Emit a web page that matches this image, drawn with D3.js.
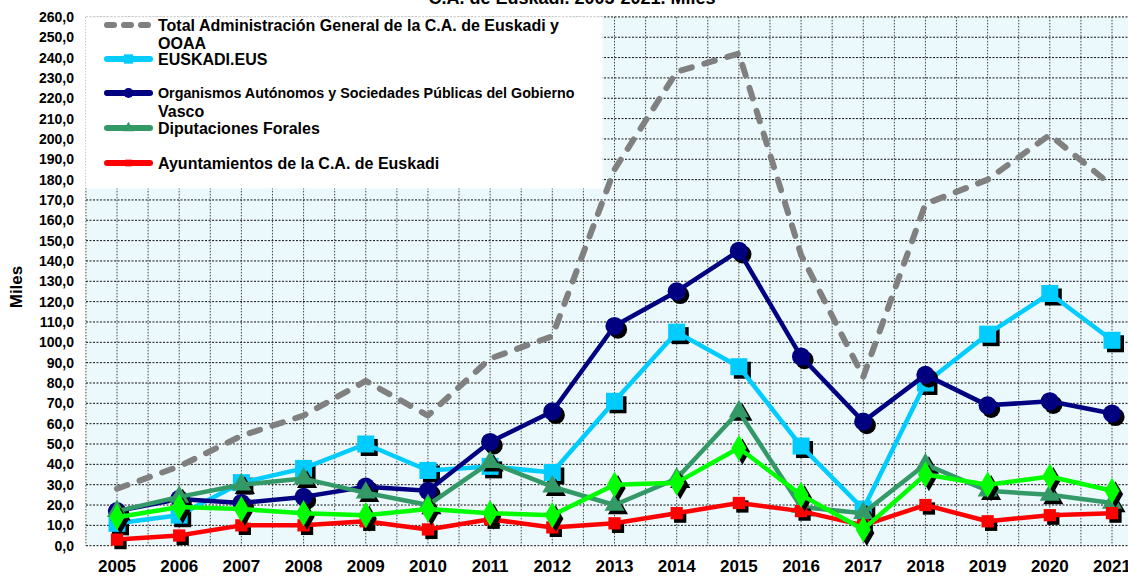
<!DOCTYPE html>
<html>
<head>
<meta charset="utf-8">
<script src="https://cdn.jsdelivr.net/npm/d3@7"></script>
<style>
    body { margin: 0; background: #fff; }
    svg { display: block; font-family: "Liberation Sans", Arial, sans-serif; font-weight: bold; }
</style>
</head>
<body>
<div id="chart"></div>
<script>
// data (miles)
const years = [2005, 2006, 2007, 2008, 2009, 2010, 2011, 2012, 2013, 2014, 2015, 2016, 2017, 2018, 2019, 2020, 2021];
const totalAdmin = [28, 39, 54, 64, 81, 64, 92, 103, 185, 233, 242, 143, 83, 168, 180, 202, 177];
const euskadiEus = [11, 15, 31, 38, 50, 37, 39, 36, 71, 105, 88, 49, 18, 80, 104, 124, 101];
const organismos = [17, 23, 21, 24, 29, 27, 51, 66, 108, 125, 145, 93, 61, 84, 69, 71, 65];
const diputaciones = [17, 24, 30, 33, 26, 20, 41, 29, 20, 33, 66, 19, 16, 40, 27, 25, 21];
const ayuntamientos = [3, 5, 10, 10, 12, 8, 13, 9, 11, 16, 21, 17, 10, 20, 12, 15, 16];
const otros = [14, 19, 18, 16, 15, 18, 16, 15, 30, 31, 48, 25, 8, 35, 30, 34, 27];
const yTicks = d3.range(0, 261, 10);

const titleText = "C.A. de Euskadi. 2005-2021. Miles";
const yLabel = "Miles";

// drawing order = stacking order in the picture
const series = [
    { name: "Total Administración General de la C.A. de Euskadi y|OOAA", values: totalAdmin, color: "#808080", dashed: true },
    { name: "EUSKADI.EUS", values: euskadiEus, color: "#00CCFF", symbol: d3.symbolSquare, size: 289 },
    { name: "Organismos Autónomos y Sociedades Públicas del Gobierno|Vasco", values: organismos, color: "#000080", symbol: d3.symbolCircle, size: 260, small: true },
    { name: "Diputaciones Forales", values: diputaciones, color: "#339966", symbol: d3.symbolTriangle, size: 175 },
    { name: "Ayuntamientos de la C.A. de Euskadi", values: ayuntamientos, color: "#FF0000", symbol: d3.symbolSquare, size: 150 },
    { name: null, values: otros, color: "#00FF00", symbol: d3.symbolDiamond, size: 200 }
];

const width = 1128, height = 576;
const plot = { left: 86, top: 16.9, bottom: 545.7 };

const svg = d3.select("#chart").append("svg")
    .attr("width", width)
    .attr("height", height);

const x = d3.scalePoint()
    .domain(years)
    .range([117, 1112]);

const y = d3.scaleLinear()
    .domain([0, 260])
    .range([plot.bottom, plot.top]);

const step = x.step();
const plotRight = x(years[years.length - 1]) + step / 2;

// plot background
svg.append("rect")
    .attr("x", plot.left)
    .attr("y", plot.top)
    .attr("width", plotRight - plot.left)
    .attr("height", plot.bottom - plot.top)
    .attr("fill", "#EBF8FC");

// grid
const gridV = d3.range(0, years.length * 2 + 1).map(k => x(years[0]) - step / 2 + k * step / 2);
svg.append("g")
    .selectAll("line")
    .data(gridV)
    .join("line")
    .attr("x1", d => d).attr("x2", d => d)
    .attr("y1", plot.top).attr("y2", plot.bottom)
    .attr("stroke", "#444")
    .attr("stroke-width", 1)
    .attr("stroke-dasharray", "1.5,1.5");

svg.append("g")
    .selectAll("line")
    .data(yTicks)
    .join("line")
    .attr("x1", plot.left).attr("x2", plotRight)
    .attr("y1", d => y(d)).attr("y2", d => y(d))
    .attr("stroke", "#111")
    .attr("stroke-width", 1)
    .attr("stroke-dasharray", "2,1.5");

// legend box sits over the grid
svg.append("rect")
    .attr("x", plot.left - 0.5)
    .attr("y", plot.top - 0.5)
    .attr("width", 603 - plot.left)
    .attr("height", 189 - plot.top)
    .attr("fill", "#fff");
svg.append("line")
    .attr("x1", plot.left).attr("x2", 603)
    .attr("y1", plot.top).attr("y2", plot.top)
    .attr("stroke", "#ddd")
    .attr("stroke-dasharray", "2,2");

// axes labels
svg.append("g")
    .selectAll("text")
    .data(yTicks)
    .join("text")
    .attr("x", 74)
    .attr("y", d => y(d))
    .attr("dy", "0.36em")
    .attr("text-anchor", "end")
    .attr("font-size", 14)
    .text(d => d3.format(".1f")(d).replace(".", ","));

svg.append("g")
    .selectAll("text")
    .data(years)
    .join("text")
    .attr("x", d => x(d))
    .attr("y", 572)
    .attr("text-anchor", "middle")
    .attr("font-size", 17)
    .text(d => d);

svg.append("text")
    .attr("transform", "translate(22,287) rotate(-90)")
    .attr("text-anchor", "middle")
    .attr("font-size", 17)
    .text(yLabel);

svg.append("text")
    .attr("x", 572)
    .attr("y", 4)
    .attr("text-anchor", "middle")
    .attr("font-size", 18)
    .text(titleText);

// series
const line = d3.line()
    .x((d, i) => x(years[i]))
    .y(d => y(d));

series.forEach(s => {
    const g = svg.append("g");
    if (s.dashed) {
        g.append("path")
            .attr("d", line(s.values))
            .attr("fill", "none")
            .attr("stroke", s.color)
            .attr("stroke-width", 6)
            .attr("stroke-linecap", "round")
            .attr("stroke-linejoin", "round")
            .attr("stroke-dasharray", "11,13");
        return;
    }
    const sym = d3.symbol().type(s.symbol).size(s.size);
    // marker shadows
    g.selectAll(".shadow")
        .data(s.values)
        .join("path")
        .attr("class", "shadow")
        .attr("d", sym)
        .attr("transform", (d, i) => "translate(" + (x(years[i]) + 3.5) + " " + (y(d) + 3.5) + ")")
        .attr("fill", "#000");
    g.append("path")
        .attr("d", line(s.values))
        .attr("fill", "none")
        .attr("stroke", s.color)
        .attr("stroke-width", 4.5)
        .attr("stroke-linejoin", "round");
    g.selectAll(".marker")
        .data(s.values)
        .join("path")
        .attr("class", "marker")
        .attr("d", sym)
        .attr("transform", (d, i) => "translate(" + x(years[i]) + " " + y(d) + ")")
        .attr("fill", s.color);
});

// legend
const legendRows = [25, 59, 93, 128, 163];
const legend = svg.append("g");
series.filter(s => s.name).forEach((s, i) => {
    const ly = legendRows[i];
    const row = legend.append("g");
    row.append("line")
        .attr("x1", 107).attr("x2", 150)
        .attr("y1", ly).attr("y2", ly)
        .attr("stroke", s.color)
        .attr("stroke-width", 6)
        .attr("stroke-linecap", "round")
        .attr("stroke-dasharray", s.dashed ? "7,10" : null);
    if (s.symbol) {
        row.append("path")
            .attr("d", d3.symbol().type(s.symbol).size(s.size * 0.3))
            .attr("transform", "translate(128.5 " + ly + ")")
            .attr("fill", s.color);
    }
    s.name.split("|").forEach((t, j) => {
        row.append("text")
            .attr("x", 158)
            .attr("y", ly + j * 18)
            .attr("dy", "0.36em")
            .attr("font-size", s.small && j === 0 ? 14.3 : 16)
            .text(t);
    });
});
</script>
</body>
</html>
